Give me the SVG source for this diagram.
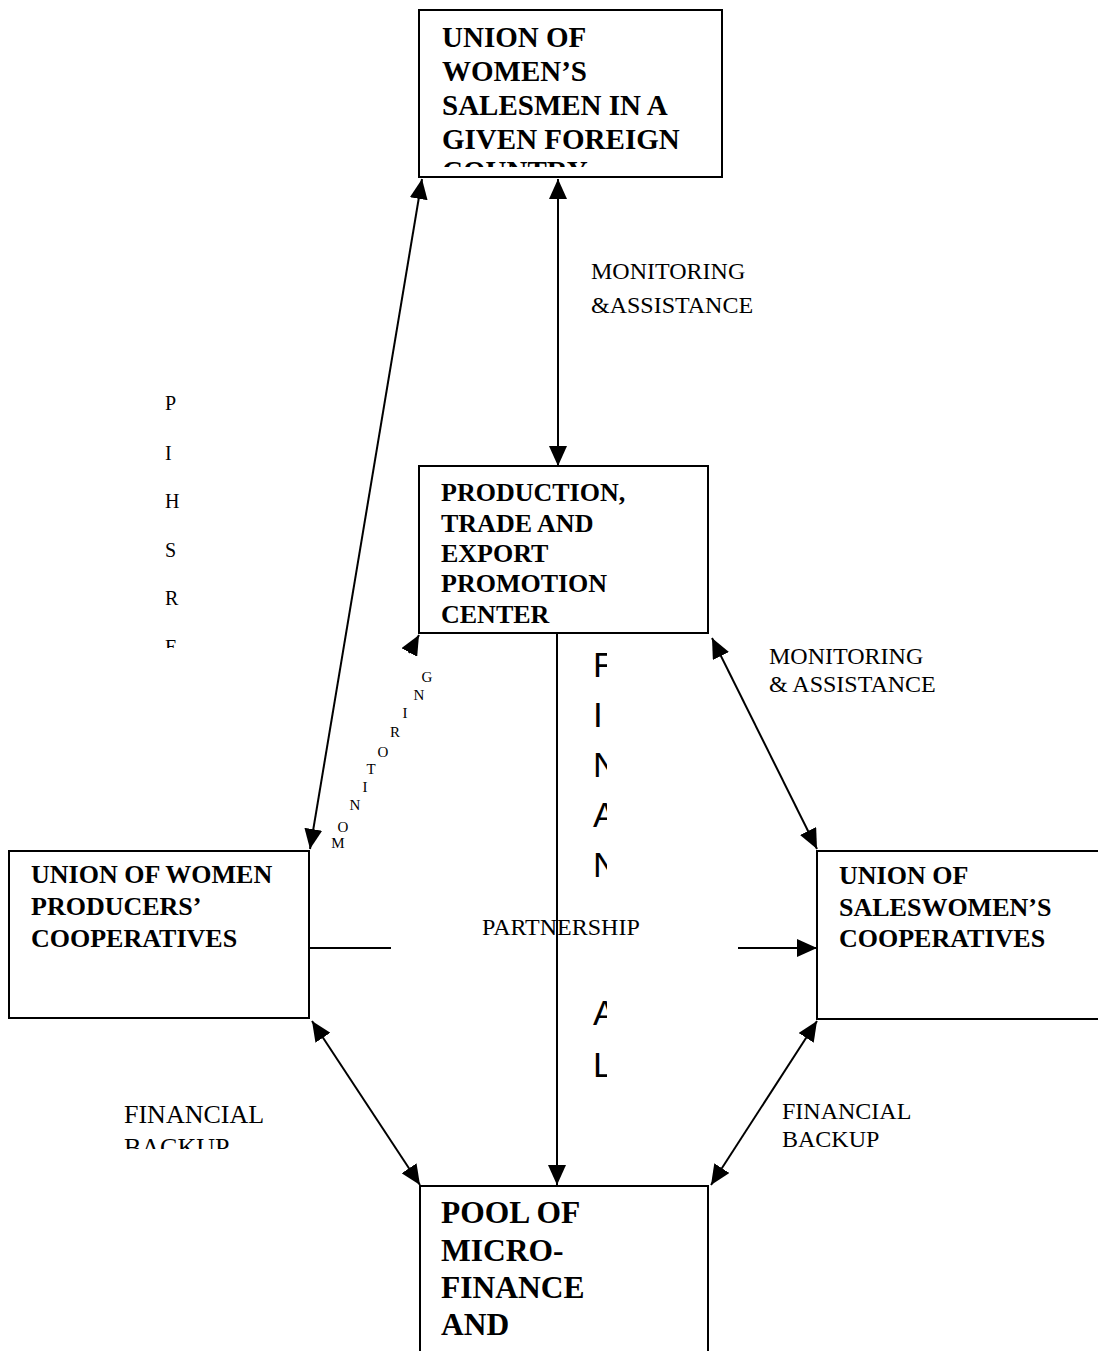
<svg xmlns="http://www.w3.org/2000/svg" width="1098" height="1351" viewBox="0 0 1098 1351">
<style>
.box{fill:#fff;stroke:#000;stroke-width:2}
.bt{font-family:"Liberation Serif","Times New Roman",serif;font-weight:bold;fill:#000}
.lb{font-family:"Liberation Serif","Times New Roman",serif;fill:#000}
.vs{font-family:"Liberation Sans",Arial,sans-serif;font-size:35px;fill:#000}
.cn{fill:none;stroke:#000;stroke-width:2}
</style>
<defs>
<marker id="ah" markerUnits="userSpaceOnUse" markerWidth="20" markerHeight="18" refX="20" refY="9" orient="auto-start-reverse" viewBox="0 0 20 18">
<path d="M0,0 L20,9 L0,18 z" fill="#000"/>
</marker>
<clipPath id="clipTop"><rect x="420" y="11" width="301" height="156"/></clipPath>
<clipPath id="clipPih"><rect x="140" y="380" width="60" height="268"/></clipPath>
<clipPath id="clipFin1"><rect x="580" y="640" width="27" height="257"/></clipPath>
<clipPath id="clipFin2"><rect x="580" y="990" width="27" height="100"/></clipPath>
<clipPath id="clipFB"><rect x="100" y="1090" width="200" height="59"/></clipPath>
</defs>

<g id="connectors">
<path class="cn" d="M558,179 L558,466" marker-start="url(#ah)" marker-end="url(#ah)"/>
<path class="cn" d="M422,179 L310,849" marker-start="url(#ah)" marker-end="url(#ah)"/>
<path class="cn" d="M712,638 L817,849" marker-start="url(#ah)" marker-end="url(#ah)"/>
<path class="cn" d="M312,1021 L420,1185" marker-start="url(#ah)" marker-end="url(#ah)"/>
<path class="cn" d="M817,1021 L711,1185" marker-start="url(#ah)" marker-end="url(#ah)"/>
<path class="cn" d="M557,633 L557,1185" marker-end="url(#ah)"/>
<path class="cn" d="M309,948 L391,948"/>
<path class="cn" d="M738,948 L817,948" marker-end="url(#ah)"/>
<path class="cn" d="M409,653 L419,635" marker-end="url(#ah)"/>
</g>

<g id="node-top">
<rect class="box" x="419" y="10" width="303" height="167"/>
<g clip-path="url(#clipTop)">
<text class="bt" font-size="29" x="442" y="47">UNION OF</text>
<text class="bt" font-size="29" x="442" y="81">WOMEN’S</text>
<text class="bt" font-size="29" x="442" y="115">SALESMEN IN A</text>
<text class="bt" font-size="29" x="442" y="149">GIVEN FOREIGN</text>
<text class="bt" font-size="29" x="442" y="181">COUNTRY</text>
</g>
</g>

<g id="node-center">
<rect class="box" x="419" y="466" width="289" height="167"/>
<text class="bt" font-size="26" x="441" y="501">PRODUCTION,</text>
<text class="bt" font-size="26" x="441" y="532">TRADE AND</text>
<text class="bt" font-size="26" x="441" y="562">EXPORT</text>
<text class="bt" font-size="26" x="441" y="592">PROMOTION</text>
<text class="bt" font-size="26" x="441" y="623">CENTER</text>
</g>

<g id="node-left">
<rect class="box" x="9" y="851" width="300" height="167"/>
<text class="bt" font-size="26" x="31" y="883">UNION OF WOMEN</text>
<text class="bt" font-size="26" x="31" y="915">PRODUCERS’</text>
<text class="bt" font-size="26" x="31" y="947">COOPERATIVES</text>
</g>

<g id="node-right">
<rect class="box" x="817" y="851" width="300" height="168"/>
<text class="bt" font-size="26" x="839" y="884">UNION OF</text>
<text class="bt" font-size="26" x="839" y="916">SALESWOMEN’S</text>
<text class="bt" font-size="26" x="839" y="947">COOPERATIVES</text>
</g>

<g id="node-bottom">
<rect class="box" x="420" y="1186" width="288" height="180"/>
<text class="bt" font-size="31.5" x="441" y="1223">POOL OF</text>
<text class="bt" font-size="31.5" x="441" y="1261">MICRO-</text>
<text class="bt" font-size="31.5" x="441" y="1298">FINANCE</text>
<text class="bt" font-size="31.5" x="441" y="1335">AND</text>
</g>

<g id="labels">
<text class="lb" font-size="24" x="591" y="279">MONITORING</text>
<text class="lb" font-size="24" x="591" y="313">&amp;ASSISTANCE</text>
<text class="lb" font-size="24" x="769" y="664">MONITORING</text>
<text class="lb" font-size="24" x="769" y="692">&amp; ASSISTANCE</text>
<text class="lb" font-size="24" x="482" y="935">PARTNERSHIP</text>
<g clip-path="url(#clipFB)">
<text class="lb" font-size="26" x="124" y="1123">FINANCIAL</text>
<text class="lb" font-size="26" x="124" y="1156">BACKUP</text>
</g>
<text class="lb" font-size="24" x="782" y="1119">FINANCIAL</text>
<text class="lb" font-size="24" x="782" y="1147">BACKUP</text>
<g clip-path="url(#clipPih)" class="lb" font-size="20">
<text x="165" y="410">P</text>
<text x="165" y="460">I</text>
<text x="165" y="508">H</text>
<text x="165" y="557">S</text>
<text x="165" y="605">R</text>
<text x="165" y="654">E</text>
</g>
<g class="lb" font-size="15" text-anchor="middle">
<text x="338" y="848">M</text>
<text x="343" y="832">O</text>
<text x="355" y="810">N</text>
<text x="365" y="792">I</text>
<text x="371" y="774">T</text>
<text x="383" y="757">O</text>
<text x="395" y="737">R</text>
<text x="405" y="718">I</text>
<text x="419" y="700">N</text>
<text x="427" y="682">G</text>
</g>
<g clip-path="url(#clipFin1)" class="vs">
<text x="593" y="677">F</text>
<text x="593" y="727">I</text>
<text x="593" y="777">N</text>
<text x="593" y="827">A</text>
<text x="593" y="877">N</text>
<text x="593" y="927">C</text>
</g>
<g clip-path="url(#clipFin2)" class="vs">
<text x="593" y="1025">A</text>
<text x="593" y="1077">L</text>
</g>
</g>
</svg>
